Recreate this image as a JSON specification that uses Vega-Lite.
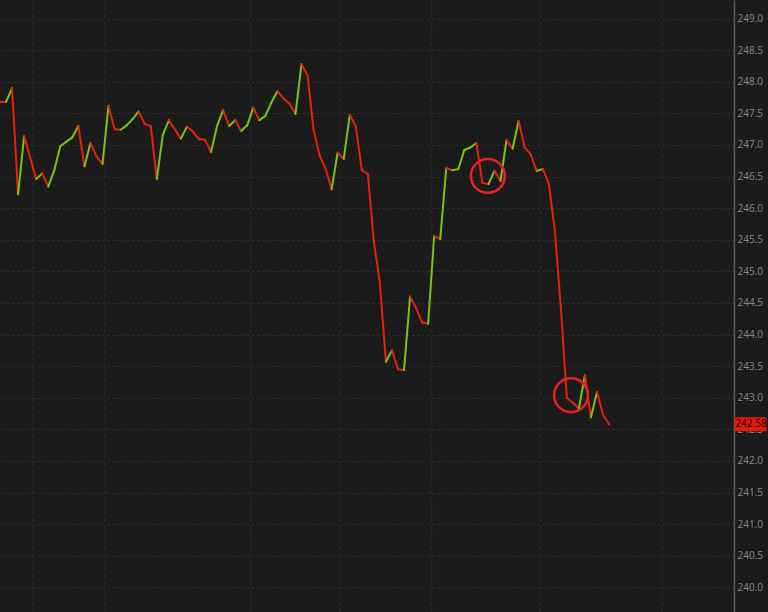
{
  "$schema": "https://vega.github.io/schema/vega-lite/v6.json",
  "width": 734,
  "height": 612,
  "autosize": "none",
  "padding": {"left": 0, "top": 0, "right": 34, "bottom": 0},
  "background": "#1b1b1b",
  "config": {
    "view": {"stroke": null},
    "axisY": {
      "orient": "right", "title": null, "format": ".1f", "tickCount": 19,
      "values": [240, 240.5, 241, 241.5, 242, 242.5, 243, 243.5, 244, 244.5, 245, 245.5, 246, 246.5, 247, 247.5, 248, 248.5, 249],
      "labelOverlap": false, "labelBound": false,
      "domainColor": "#5c5c5c", "domainWidth": 1.5, "ticks": false, "labelPadding": 3,
      "labelColor": "#8a8a8a", "labelFont": "Open Sans", "labelFontSize": 10,
      "grid": true, "gridColor": "#333333", "gridDash": [2, 3], "gridWidth": 1
    }
  },
  "datasets": {
    "price": [
      {"t": 0, "price": 247.68}, {"t": 1, "price": 247.68}, {"t": 2, "price": 247.90}, {"t": 3, "price": 246.22},
      {"t": 4, "price": 247.14}, {"t": 6, "price": 246.46}, {"t": 7, "price": 246.55}, {"t": 8, "price": 246.34},
      {"t": 9, "price": 246.60}, {"t": 10, "price": 246.98}, {"t": 11, "price": 247.05}, {"t": 12, "price": 247.12},
      {"t": 13, "price": 247.30}, {"t": 14, "price": 246.66}, {"t": 15, "price": 247.03}, {"t": 16, "price": 246.82},
      {"t": 17, "price": 246.70}, {"t": 18, "price": 247.62}, {"t": 19, "price": 247.25}, {"t": 20, "price": 247.24},
      {"t": 21, "price": 247.31}, {"t": 22, "price": 247.41}, {"t": 23, "price": 247.53}, {"t": 24, "price": 247.33},
      {"t": 25, "price": 247.30}, {"t": 26, "price": 246.46}, {"t": 27, "price": 247.16}, {"t": 28, "price": 247.39},
      {"t": 30, "price": 247.10}, {"t": 31, "price": 247.29}, {"t": 32, "price": 247.21}, {"t": 33, "price": 247.09},
      {"t": 34, "price": 247.08}, {"t": 35, "price": 246.89}, {"t": 36, "price": 247.30}, {"t": 37, "price": 247.55},
      {"t": 38, "price": 247.30}, {"t": 39, "price": 247.39}, {"t": 40, "price": 247.22}, {"t": 41, "price": 247.31},
      {"t": 42, "price": 247.59}, {"t": 43, "price": 247.39}, {"t": 44, "price": 247.46}, {"t": 45, "price": 247.67},
      {"t": 46, "price": 247.85}, {"t": 47, "price": 247.74}, {"t": 48, "price": 247.65}, {"t": 49, "price": 247.49},
      {"t": 50, "price": 248.28}, {"t": 51, "price": 248.10}, {"t": 52, "price": 247.24}, {"t": 53, "price": 246.83},
      {"t": 54, "price": 246.62}, {"t": 55, "price": 246.30}, {"t": 56, "price": 246.88}, {"t": 57, "price": 246.78},
      {"t": 58, "price": 247.47}, {"t": 59, "price": 247.30}, {"t": 60, "price": 246.60}, {"t": 61, "price": 246.54},
      {"t": 62, "price": 245.47}, {"t": 63, "price": 244.81}, {"t": 64, "price": 243.57}, {"t": 65, "price": 243.75},
      {"t": 66, "price": 243.45}, {"t": 67, "price": 243.44}, {"t": 68, "price": 244.60}, {"t": 69, "price": 244.42},
      {"t": 70, "price": 244.19}, {"t": 71, "price": 244.17}, {"t": 72, "price": 245.56}, {"t": 73, "price": 245.51},
      {"t": 74, "price": 246.63}, {"t": 75, "price": 246.60}, {"t": 76, "price": 246.62}, {"t": 77, "price": 246.92},
      {"t": 78, "price": 246.96}, {"t": 79, "price": 247.03}, {"t": 80, "price": 246.40}, {"t": 81, "price": 246.38},
      {"t": 82, "price": 246.59}, {"t": 83, "price": 246.43}, {"t": 84, "price": 247.08}, {"t": 85, "price": 246.94},
      {"t": 86, "price": 247.38}, {"t": 87, "price": 246.96}, {"t": 88, "price": 246.85}, {"t": 89, "price": 246.59},
      {"t": 90, "price": 246.62}, {"t": 91, "price": 246.39}, {"t": 92, "price": 245.65}, {"t": 93, "price": 244.44},
      {"t": 94, "price": 243.00}, {"t": 95, "price": 242.92}, {"t": 96, "price": 242.83}, {"t": 97, "price": 243.36},
      {"t": 98, "price": 242.69}, {"t": 99, "price": 243.09}, {"t": 100, "price": 242.73}, {"t": 101, "price": 242.58}
    ],
    "vgrid": [{"t": 5.47}, {"t": 17.4}, {"t": 41.6}, {"t": 56.4}, {"t": 71.6}, {"t": 89.6}, {"t": 109.8}],
    "circles": [{"t": 80.9, "price": 246.51}, {"t": 94.7, "price": 243.04}],
    "last": [{"t": 121.72, "price": 242.58, "label": "242.58"}]
  },
  "layer": [
    {
      "data": {"name": "vgrid"},
      "mark": {"type": "rule", "color": "#2e2e2e", "strokeWidth": 1, "strokeDash": [4, 3]},
      "encoding": {
        "x": {"field": "t", "type": "quantitative", "scale": {"domain": [0, 121.72], "nice": false, "zero": false}, "axis": null}
      }
    },
    {
      "data": {"name": "price"},
      "transform": [
        {"window": [{"op": "lag", "field": "price", "as": "prev"}, {"op": "lag", "field": "t", "as": "prevT"}], "sort": [{"field": "t"}]},
        {"filter": "datum.prev != null"},
        {"calculate": "datum.price > datum.prev ? 'up' : 'down'", "as": "dir"}
      ],
      "mark": {"type": "rule", "strokeWidth": 2, "strokeCap": "round"},
      "encoding": {
        "x": {"field": "prevT", "type": "quantitative", "scale": {"domain": [0, 121.72], "nice": false, "zero": false}, "axis": null},
        "x2": {"field": "t"},
        "y": {
          "field": "prev", "type": "quantitative",
          "scale": {"domain": [239.61, 249.293], "nice": false, "zero": false},
          "axis": {"title": null, "values": [240, 240.5, 241, 241.5, 242, 242.5, 243, 243.5, 244, 244.5, 245, 245.5, 246, 246.5, 247, 247.5, 248, 248.5, 249]}
        },
        "y2": {"field": "price"},
        "color": {"field": "dir", "type": "nominal", "scale": {"domain": ["up", "down"], "range": ["#7cc21a", "#e8200c"]}, "legend": null}
      }
    },
    {
      "data": {"name": "circles"},
      "mark": {"type": "point", "shape": "circle", "filled": false, "size": 1150, "strokeWidth": 2.5, "color": "#e8202a", "opacity": 1},
      "encoding": {
        "x": {"field": "t", "type": "quantitative", "scale": {"domain": [0, 121.72], "nice": false, "zero": false}, "axis": null},
        "y": {"field": "price", "type": "quantitative", "scale": {"domain": [239.61, 249.293], "nice": false, "zero": false},
          "axis": {"title": null, "values": [240, 240.5, 241, 241.5, 242, 242.5, 243, 243.5, 244, 244.5, 245, 245.5, 246, 246.5, 247, 247.5, 248, 248.5, 249]}}
      }
    },
    {
      "data": {"name": "last"},
      "mark": {"type": "point", "shape": "M 0.14 -0.44 L 1.94 -0.44 Q 2.06 -0.44 2.06 -0.32 L 2.06 0.32 Q 2.06 0.44 1.94 0.44 L 0.14 0.44 Q 0.02 0.44 0.02 0.32 L 0.02 -0.32 Q 0.02 -0.44 0.14 -0.44 Z", "filled": true, "size": 1000, "color": "#e01b0b", "opacity": 1, "clip": false},
      "encoding": {
        "x": {"field": "t", "type": "quantitative", "scale": {"domain": [0, 121.72], "nice": false, "zero": false}, "axis": null},
        "y": {"field": "price", "type": "quantitative", "scale": {"domain": [239.61, 249.293], "nice": false, "zero": false},
          "axis": {"title": null, "values": [240, 240.5, 241, 241.5, 242, 242.5, 243, 243.5, 244, 244.5, 245, 245.5, 246, 246.5, 247, 247.5, 248, 248.5, 249]}}
      }
    },
    {
      "data": {"name": "last"},
      "mark": {"type": "text", "dx": 17, "align": "center", "baseline": "middle", "font": "Open Sans", "fontSize": 10, "color": "#2a0000", "clip": false},
      "encoding": {
        "x": {"field": "t", "type": "quantitative", "scale": {"domain": [0, 121.72], "nice": false, "zero": false}, "axis": null},
        "y": {"field": "price", "type": "quantitative", "scale": {"domain": [239.61, 249.293], "nice": false, "zero": false},
          "axis": {"title": null, "values": [240, 240.5, 241, 241.5, 242, 242.5, 243, 243.5, 244, 244.5, 245, 245.5, 246, 246.5, 247, 247.5, 248, 248.5, 249]}},
        "text": {"field": "label"}
      }
    }
  ]
}
